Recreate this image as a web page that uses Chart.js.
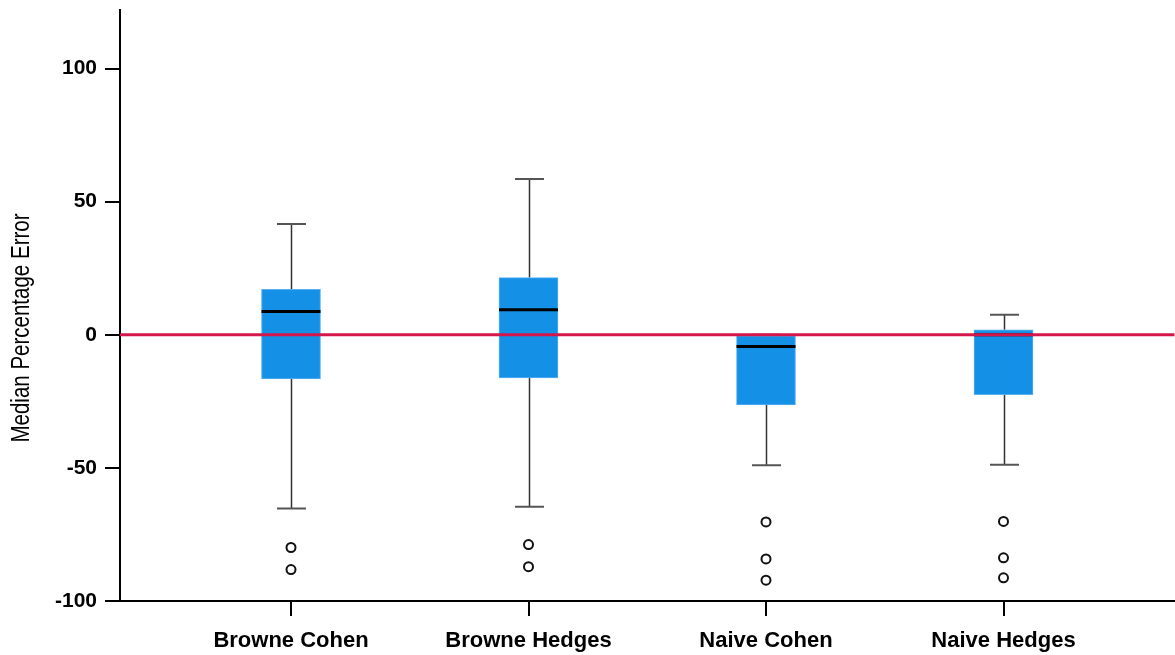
<!DOCTYPE html>
<html>
<head>
<meta charset="utf-8">
<script src="https://cdn.jsdelivr.net/npm/chart.js@4/dist/chart.umd.min.js"></script>
<style>
    html, body { margin: 0; padding: 0; background: #fff; overflow: hidden; }
    #wrap { width: 1175px; height: 655px; overflow: hidden; }
</style>
</head>
<body>
<!-- canvas is a few px wider than the view so the point overflow padding falls outside it -->
<div id="wrap"><canvas id="boxChart" width="1181" height="655"></canvas></div>
<script>
// Box plot summary values
const categories = ['Browne Cohen', 'Browne Hedges', 'Naive Cohen', 'Naive Hedges'];
const whiskerLow = [-65.3, -64.6, -49.0, -48.8];
const q1 = [-16.6, -16.2, -26.3, -22.5];
const median = [8.7, 9.4, -4.4, 0];
const q3 = [17.1, 21.5, 0, 1.9];
const whiskerHigh = [41.6, 58.5, 0, 7.5];
const outliers = [
    [-79.9, -88.2],
    [-78.8, -87.1],
    [-70.3, -84.2, -92.2],
    [-70.1, -83.8, -91.3]
];
const yTicks = [-100, -50, 0, 50, 100];
const referenceValue = 0;
const yTitle = 'Median Percentage Error';

document.addEventListener('DOMContentLoaded', () => {
    const ctx = document.getElementById('boxChart').getContext('2d');

    const boxData = categories.map((c, i) => ({ x: i + 1, y: [q1[i], q3[i]] }));
    const outlierData = [];
    outliers.forEach((list, i) => {
        list.forEach(v => outlierData.push({ x: i + 1, y: v }));
    });

    // whiskers, medians, reference line and axis title
    const boxExtras = {
        id: 'boxExtras',
        beforeDatasetsDraw(chart) {
            const xs = chart.scales.x, ys = chart.scales.y;
            const c = chart.ctx;
            c.save();
            categories.forEach((cat, i) => {
                const x = Math.round(xs.getPixelForValue(i + 1)) + 0.5;
                c.strokeStyle = '#333';
                c.lineWidth = 1.5;
                c.beginPath();
                c.moveTo(x, ys.getPixelForValue(q3[i]));
                c.lineTo(x, ys.getPixelForValue(whiskerHigh[i]));
                c.moveTo(x, ys.getPixelForValue(q1[i]));
                c.lineTo(x, ys.getPixelForValue(whiskerLow[i]));
                c.stroke();
                c.strokeStyle = '#555';
                c.lineWidth = 2;
                c.beginPath();
                [whiskerHigh[i], whiskerLow[i]].forEach(v => {
                    const y = ys.getPixelForValue(v);
                    c.moveTo(x - 14.5, y);
                    c.lineTo(x + 14.5, y);
                });
                c.stroke();
            });
            c.restore();
        },
        afterDatasetsDraw(chart) {
            const xs = chart.scales.x, ys = chart.scales.y;
            const c = chart.ctx;
            const area = chart.chartArea;
            c.save();
            c.strokeStyle = '#000';
            c.lineWidth = 3;
            c.beginPath();
            categories.forEach((cat, i) => {
                const x = xs.getPixelForValue(i + 1);
                const y = ys.getPixelForValue(median[i]);
                c.moveTo(x - 29.5, y);
                c.lineTo(x + 29.5, y);
            });
            c.stroke();

            const yRef = ys.getPixelForValue(referenceValue);
            c.strokeStyle = '#d5164a';
            c.lineWidth = 3;
            c.beginPath();
            c.moveTo(area.left, yRef);
            c.lineTo(area.right, yRef);
            c.stroke();

            // rotated, slightly condensed y axis title
            c.translate(22, 328);
            c.rotate(-Math.PI / 2);
            c.scale(0.82, 1);
            c.font = '25px "Liberation Sans", Arial, sans-serif';
            c.fillStyle = '#000';
            c.textAlign = 'center';
            c.textBaseline = 'middle';
            c.fillText(yTitle, 0, 0);
            c.restore();
        }
    };

    new Chart(ctx, {
        type: 'bar',
        data: {
            datasets: [
                {
                    type: 'bar',
                    data: boxData,
                    backgroundColor: 'rgb(20, 144, 230)',
                    borderColor: 'rgb(90, 175, 240)',
                    borderWidth: 1,
                    borderSkipped: false,
                    barThickness: 59
                },
                {
                    type: 'scatter',
                    data: outlierData,
                    pointRadius: 4.5,
                    pointBorderWidth: 2,
                    borderColor: '#111',
                    backgroundColor: '#fff'
                }
            ]
        },
        plugins: [boxExtras],
        options: {
            responsive: false,
            animation: false,
            devicePixelRatio: 1,
            layout: { padding: { top: 10, right: 0, left: 0, bottom: 0 } },
            plugins: {
                legend: { display: false },
                tooltip: { enabled: false }
            },
            scales: {
                x: {
                    type: 'linear',
                    offset: false,
                    min: 0.28,
                    max: 4.72,
                    afterBuildTicks: scale => {
                        scale.ticks = categories.map((c, i) => ({ value: i + 1 }));
                    },
                    afterFit: scale => {
                        scale.height = 54;
                        scale.paddingLeft = 0;
                        scale.paddingRight = 0;
                    },
                    ticks: {
                        callback: (value, index) => categories[index],
                        autoSkip: false,
                        maxRotation: 0,
                        color: '#000',
                        padding: 12,
                        font: { family: '"Liberation Sans", Arial, sans-serif', size: 22, weight: 'bold' }
                    },
                    grid: {
                        offset: false,
                        drawOnChartArea: false,
                        drawTicks: true,
                        tickLength: 15,
                        color: '#000',
                        lineWidth: 2
                    },
                    border: { display: true, color: '#000', width: 2 }
                },
                y: {
                    min: -100,
                    max: 122,
                    afterBuildTicks: scale => {
                        scale.ticks = yTicks.map(v => ({ value: v }));
                    },
                    afterFit: scale => {
                        scale.width = 120;
                        scale.paddingTop = 0;
                        scale.paddingBottom = 0;
                    },
                    ticks: {
                        color: '#000',
                        padding: 8,
                        font: { family: '"Liberation Sans", Arial, sans-serif', size: 21, weight: 'bold' }
                    },
                    grid: {
                        drawOnChartArea: false,
                        drawTicks: true,
                        tickLength: 15,
                        color: '#000',
                        lineWidth: 2
                    },
                    border: { display: true, color: '#000', width: 2 }
                }
            }
        }
    });
});
</script>
</body>
</html>
